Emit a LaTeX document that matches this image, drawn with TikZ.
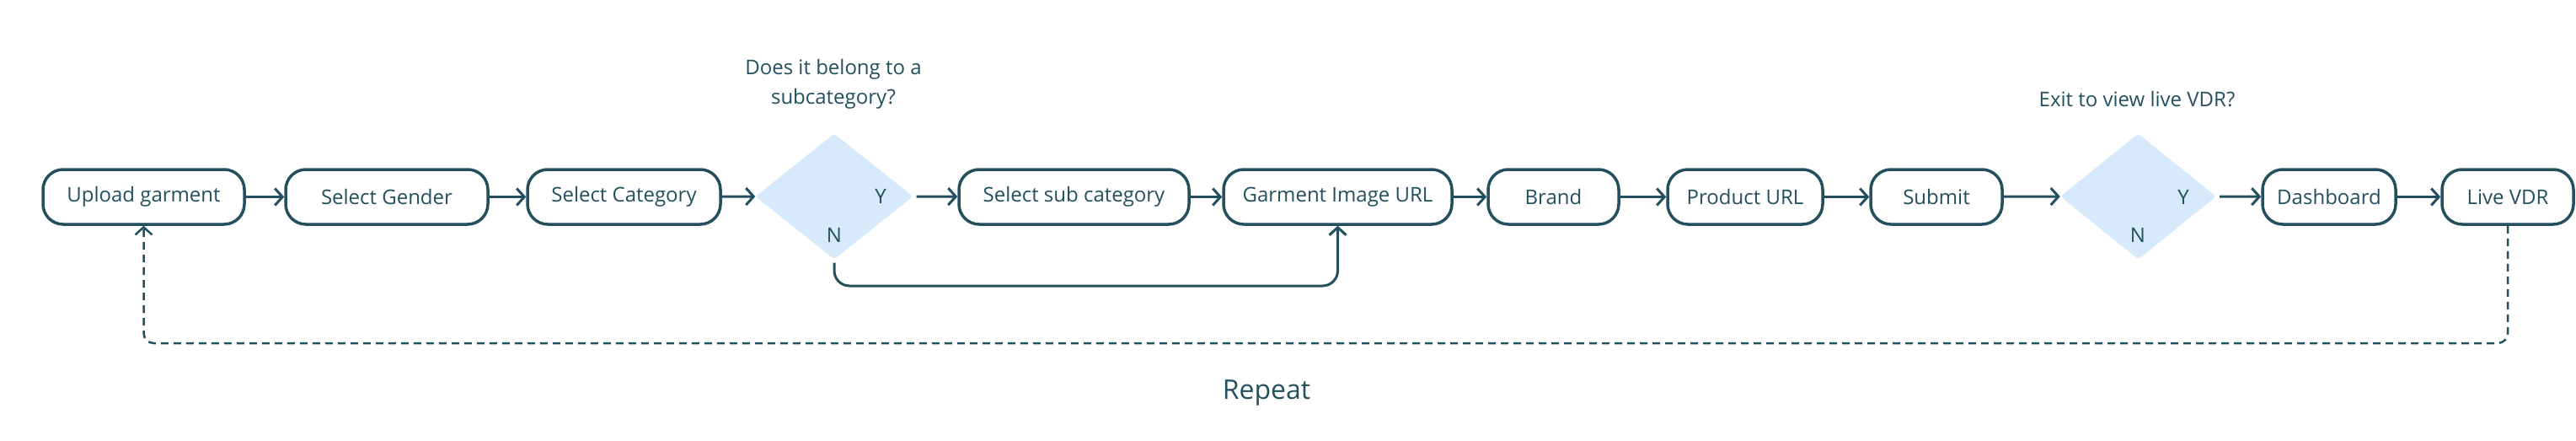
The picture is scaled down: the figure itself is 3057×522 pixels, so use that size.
\documentclass[tikz,border=0pt]{standalone}
\usepackage{fontspec}
\setmainfont{Open Sans}
\usetikzlibrary{shapes.geometric,arrows.meta}
\definecolor{ink}{HTML}{234F5E}
\definecolor{dfill}{HTML}{D6EAFB}
\tikzset{
  stepbox/.style={draw=ink, line width=3.5pt, rounded corners=24pt, fill=white,
    minimum height=65pt, inner sep=0pt, text=ink, font=\fontsize{24}{28}\selectfont},
  decide/.style={diamond, fill=dfill, draw=none, inner sep=0pt, rounded corners=4pt,
    minimum width=187pt, minimum height=149pt},
  lbl/.style={text=ink, font=\fontsize{24}{28}\selectfont, inner sep=0pt},
  flow/.style={draw=ink, line width=3pt, -{Straight Barb[length=9pt,width=20pt]}},
  loopback/.style={draw=ink, line width=2.5pt, dash pattern=on 9pt off 6pt, rounded corners=12pt,
    -{Straight Barb[length=9pt,width=20pt]}},
}
\begin{document}
\begin{tikzpicture}[x=1pt,y=-1pt]
\useasboundingbox (0,0) rectangle (3057,522);
\node[stepbox, minimum width=239pt] (up) at (170.5,233.5) {Upload garment};
\node[stepbox, minimum width=240pt] (gen) at (459,233.5) {Select Gender};
\node[stepbox, minimum width=229pt] (cat) at (740.5,233.5) {Select Category};
\node[decide] (d1) at (990,233) {};
\node[stepbox, minimum width=273pt] (sub) at (1274.5,233.5) {Select sub category};
\node[stepbox, minimum width=271pt] (gim) at (1587.5,233.5) {Garment Image URL};
\node[stepbox, minimum width=155pt] (brand) at (1843.5,233.5) {Brand};
\node[stepbox, minimum width=184pt] (purl) at (2071,233.5) {Product URL};
\node[stepbox, minimum width=156pt] (submit) at (2298,233.5) {Submit};
\node[decide, minimum width=185pt] (d2) at (2537.5,233) {};
\node[stepbox, minimum width=158pt] (dash) at (2764,233.5) {Dashboard};
\node[stepbox, minimum width=156pt] (live) at (2976,233.5) {Live VDR};

\node[lbl] (y1) at (1045,233) {Y};
\node[lbl] (n1) at (990,279) {N};
\node[lbl] (y2) at (2591,234) {Y};
\node[lbl] (n2) at (2537,279) {N};

\node[lbl, align=center, font=\fontsize{24}{35}\selectfont] (q1) at (989,100) {Does it belong to a\\subcategory?};
\node[lbl] (q2) at (2536,118) {Exit to view live VDR?};
\node[lbl, font=\fontsize{32}{36}\selectfont] (rep) at (1503,466) {Repeat};

\draw[flow] (up) -- (gen);
\draw[flow] (gen) -- (cat);
\draw[flow] (cat) -- (d1.west);
\draw[flow, shorten <=4pt] (d1.east) -- (sub);
\draw[flow] (sub) -- (gim);
\draw[flow] (gim) -- (brand);
\draw[flow] (brand) -- (purl);
\draw[flow] (purl) -- (submit);
\draw[flow] (submit) -- (d2.west);
\draw[flow, shorten <=4pt] (d2.east) -- (dash);
\draw[flow] (dash) -- (live);

\coordinate (nb) at (990,339);
\coordinate (nr) at (1587.5,339);
\draw[flow, rounded corners=18pt, shorten <=4pt] (d1.south) -- (nb) -- (nr) -- (gim.south);

\coordinate (lb) at (2976,407);
\coordinate (lu) at (170.5,407);
\draw[loopback] (live.south) -- (lb) -- (lu) -- (up.south);
\end{tikzpicture}
\end{document}
